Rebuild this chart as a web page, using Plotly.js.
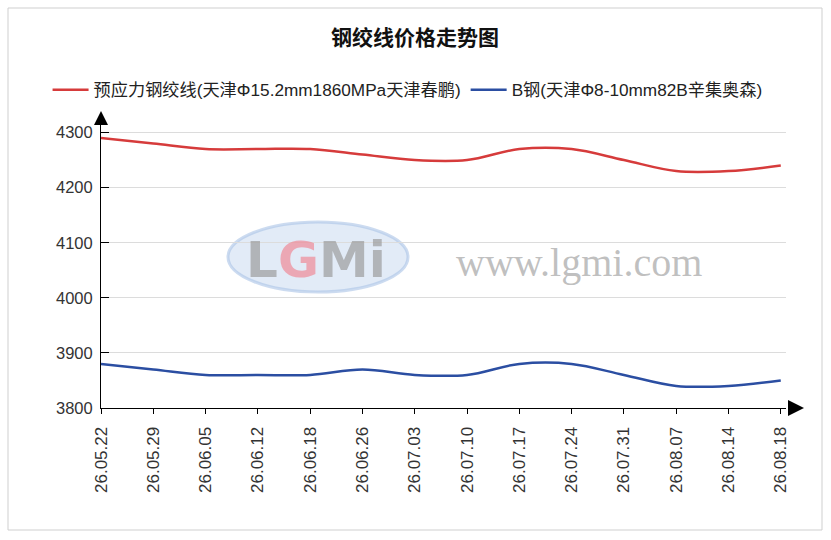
<!DOCTYPE html>
<html><head><meta charset="utf-8">
<script src="https://cdn.plot.ly/plotly-3.0.1.min.js"></script>
<style>body{margin:0;background:#fff}#c{width:831px;height:540px}</style>
</head><body><div id="c"></div>
<script>
const dates = ["26.05.22","26.05.29","26.06.05","26.06.12","26.06.18","26.06.26","26.07.03","26.07.10","26.07.17","26.07.24","26.07.31","26.08.07","26.08.14","26.08.18"];
const strandName = "预应力钢绞线(天津Φ15.2mm1860MPa天津春鹏)";
const strandPrice = [4290,4280,4270,4270,4270,4260,4250,4250,4270,4270,4250,4230,4230,4240];
const wireName = "B钢(天津Φ8-10mm82B辛集奥森)";
const wirePrice = [3880,3870,3860,3860,3860,3870,3860,3860,3880,3880,3860,3840,3840,3850];
const yTicks = [3800,3900,4000,4100,4200,4300];

const F = '"Liberation Sans","Noto Sans CJK SC",Arial,sans-serif';
const idx = dates.map((d,i)=>i);
const traces = [
  {x: idx, y: strandPrice, name: strandName, type:'scatter', mode:'lines',
   line:{color:'#d63b3b', width:2.5, shape:'spline', smoothing:1}},
  {x: idx, y: wirePrice, name: wireName, type:'scatter', mode:'lines',
   line:{color:'#2b4ea2', width:2.5, shape:'spline', smoothing:1}}
];
const px = v => (v-101)/685;
const py = v => (408-v)/292;
const layout = {
  width:831, height:540,
  margin:{l:101, r:45, t:116, b:132},
  paper_bgcolor:'#fff', plot_bgcolor:'#fff',
  font:{family:F, color:'#333', size:13},
  title:{text:'<b>钢绞线价格走势图</b>', x:415/831, xref:'container', xanchor:'center', y:1-38/540, yanchor:'middle',
         font:{family:F, size:21, color:'#111'}},
  showlegend:true,
  legend:{orientation:'h', x:-0.078, xanchor:'left', y:py(72), yanchor:'top',
          font:{family:F, size:17.2, color:'#222'}, itemwidth:36, tracegroupgap:0},
  xaxis:{range:[0,13.1], tickmode:'array', tickvals:idx, ticktext:dates, tickangle:-90,
         showgrid:false, zeroline:false, showline:true, linecolor:'#000', linewidth:1,
         ticks:'outside', ticklen:5, tickcolor:'#000', ticklabelstandoff:6,
         tickfont:{family:F, size:17, color:'#333'}, fixedrange:true},
  yaxis:{range:[3800,4330], tickvals:yTicks,
         showgrid:true, gridcolor:'#dcdcdc', gridwidth:1, zeroline:false,
         showline:true, linecolor:'#000', linewidth:1,
         ticks:'inside', ticklen:8, tickcolor:'#000', ticklabelstandoff:4,
         tickfont:{family:F, size:16.5, color:'#333'}, fixedrange:true},
  shapes:[
    {type:'rect', xref:'paper', yref:'paper', x0:px(8), x1:px(822), y0:py(530), y1:py(8),
     line:{color:'#cfcfcf', width:1}, fillcolor:'rgba(0,0,0,0)', layer:'below'},
    {type:'path', xref:'paper', yref:'paper', xsizemode:'pixel', ysizemode:'pixel', xanchor:0, yanchor:1,
     path:'M -7,-9 L 7,-9 L 0,5 Z', fillcolor:'#000', line:{width:0}},
    {type:'path', xref:'paper', yref:'paper', xsizemode:'pixel', ysizemode:'pixel', xanchor:1, yanchor:0,
     path:'M 2,8 L 2,-8 L 18,0 Z', fillcolor:'#000', line:{width:0}},
    {type:'circle', xref:'paper', yref:'paper', x0:px(228), x1:px(408), y0:py(292), y1:py(222),
     fillcolor:'rgba(190,210,238,0.45)', line:{color:'rgba(170,195,230,0.6)', width:3}, layer:'below'}
  ],
  annotations:[
    {xref:'paper', yref:'paper', x:px(316), y:py(260), xanchor:'center', yanchor:'middle', showarrow:false,
     text:'<span style="color:rgba(150,150,150,0.65)">L</span><span style="color:rgba(240,130,145,0.65)">G</span><span style="color:rgba(150,150,150,0.65)">M</span><span style="color:rgba(150,150,150,0.65)">i</span>',
     font:{family:'"DejaVu Sans",sans-serif', size:50, weight:700}},
    {xref:'paper', yref:'paper', x:px(579), y:py(262), xanchor:'center', yanchor:'middle', showarrow:false,
     text:'www.lgmi.com',
     font:{family:'"Liberation Serif",serif', size:40, color:'rgba(150,150,150,0.6)'}}
  ]
};
Plotly.newPlot('c', traces, layout, {displayModeBar:false, staticPlot:true});
</script></body></html>
